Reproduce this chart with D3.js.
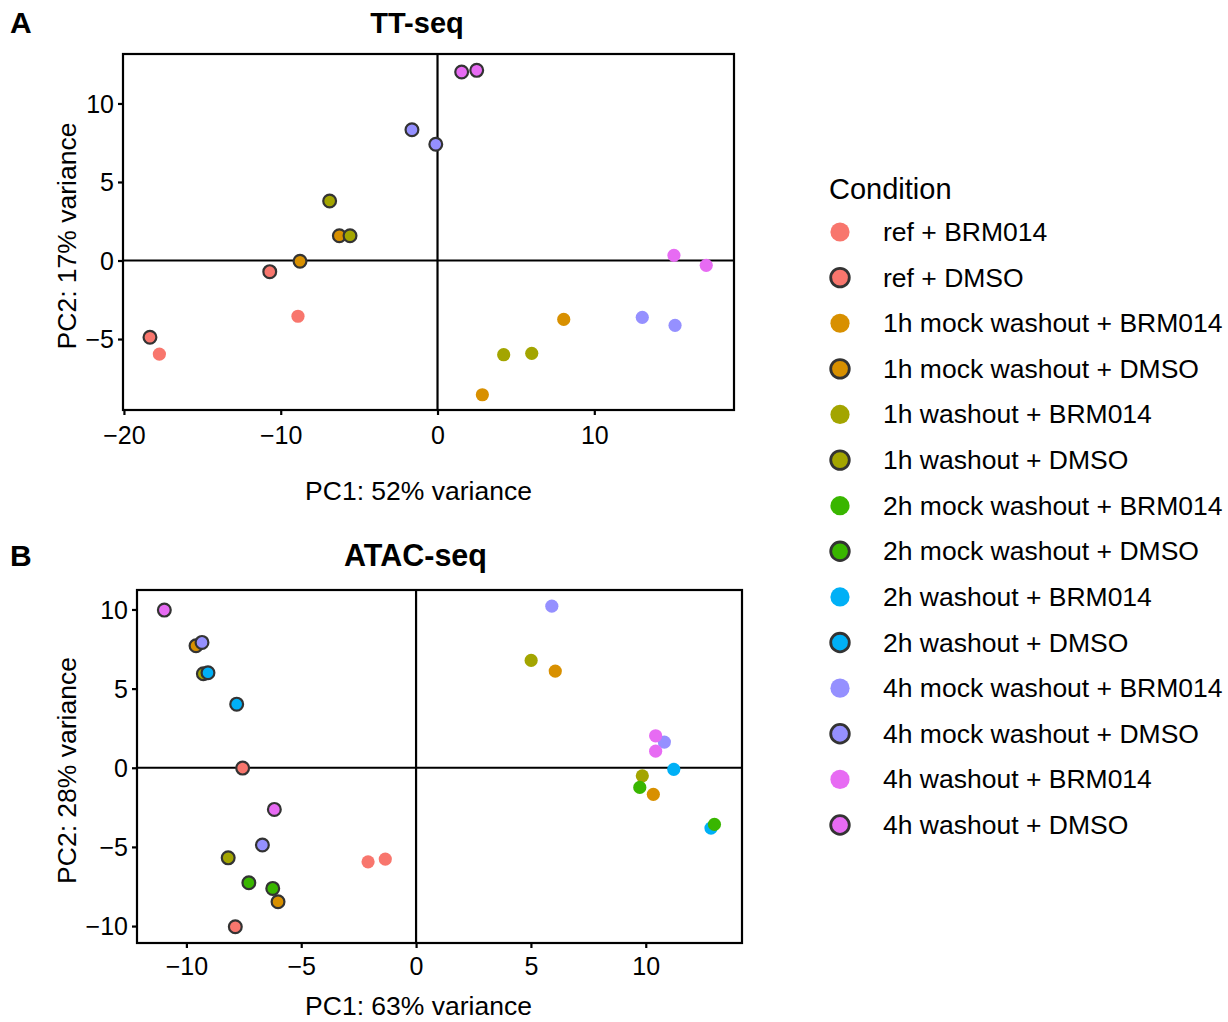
<!DOCTYPE html>
<html>
<head>
<meta charset="utf-8">
<script src="https://cdn.jsdelivr.net/npm/d3@7/dist/d3.min.js"></script>
<style>
  body { margin: 0; background: #fff; }
  svg { display: block; font-family: "Liberation Sans", Arial, Helvetica, sans-serif; }
</style>
</head>
<body>
<svg id="chart" width="1228" height="1022"></svg>
<script>
// ---- Data ----
const conditions = [
  "ref + BRM014", "ref + DMSO",
  "1h mock washout + BRM014", "1h mock washout + DMSO",
  "1h washout + BRM014", "1h washout + DMSO",
  "2h mock washout + BRM014", "2h mock washout + DMSO",
  "2h washout + BRM014", "2h washout + DMSO",
  "4h mock washout + BRM014", "4h mock washout + DMSO",
  "4h washout + BRM014", "4h washout + DMSO"
];
const conditionColors = [
  "#F8766D", "#F8766D", "#D89000", "#D89000", "#A3A500", "#A3A500",
  "#39B600", "#39B600", "#00B0F6", "#00B0F6", "#9590FF", "#9590FF",
  "#E76BF3", "#E76BF3"
];
const conditionOutlined = [false, true, false, true, false, true, false, true, false, true, false, true, false, true];

// TT-seq PCA (panel A)
const ttCond = [0, 0, 1, 1, 2, 2, 3, 3, 4, 4, 5, 5, 10, 10, 11, 11, 12, 12, 13, 13];
const ttPC1  = [-17.74, -8.90, -18.34, -10.70, 8.05, 2.86, -8.77, -6.26, 4.22, 6.01, -6.88, -5.58, 13.06, 15.15, -1.63, -0.11, 15.08, 17.14, 1.54, 2.50];
const ttPC2  = [-5.96, -3.55, -4.89, -0.71, -3.75, -8.55, -0.05, 1.58, -6.00, -5.91, 3.79, 1.58, -3.62, -4.13, 8.33, 7.40, 0.33, -0.31, 12.00, 12.11];

// ATAC-seq PCA (panel B)
const atacCond = [0, 0, 1, 1, 2, 2, 3, 3, 4, 4, 5, 5, 8, 8, 6, 6, 7, 7, 9, 9, 10, 10, 11, 11, 12, 12, 13, 13];
const atacPC1  = [-2.09, -1.34, -7.55, -7.87, 6.06, 10.33, -9.58, -6.01, 5.01, 9.85, -9.26, -8.18, 11.22, 12.84, 9.74, 12.99, -7.28, -6.24, -9.06, -7.81, 5.91, 10.81, -9.32, -6.69, 10.43, 10.43, -10.96, -6.17];
const atacPC2  = [-5.94, -5.77, -0.02, -10.04, 6.11, -1.68, 7.71, -8.46, 6.78, -0.51, 5.94, -5.69, -0.10, -3.81, -1.24, -3.58, -7.26, -7.62, 6.00, 4.02, 10.21, 1.62, 7.92, -4.88, 2.02, 1.05, 9.96, -2.63];

// Tick values
const ttXTicks = [-20, -10, 0, 10];
const ttYTicks = [-5, 0, 5, 10];
const atacXTicks = [-10, -5, 0, 5, 10];
const atacYTicks = [-10, -5, 0, 5, 10];

// ---- Drawing ----
const svg = d3.select("#chart");
svg.append("rect").attr("width", 1228).attr("height", 1022).attr("fill", "#fff");

function panel(cfg) {
  const x = d3.scaleLinear().domain(cfg.xDomain).range(cfg.xRange);
  const y = d3.scaleLinear().domain(cfg.yDomain).range(cfg.yRange);
  const g = svg.append("g");
  const [x0, x1] = cfg.xRange, [y1, y0] = cfg.yRange;

  // zero lines
  g.append("line").attr("x1", x0).attr("x2", x1).attr("y1", y(0)).attr("y2", y(0))
    .attr("stroke", "#000").attr("stroke-width", 2.2);
  g.append("line").attr("x1", x(0)).attr("x2", x(0)).attr("y1", y0).attr("y2", y1)
    .attr("stroke", "#000").attr("stroke-width", 2.2);

  // axes
  const xAxis = d3.axisBottom(x).tickValues(cfg.xTicks).tickSize(5).tickPadding(6)
    .tickFormat(d => d < 0 ? "\u2212" + Math.abs(d) : d);
  const yAxis = d3.axisLeft(y).tickValues(cfg.yTicks).tickSize(5).tickPadding(4)
    .tickFormat(d => d < 0 ? "\u2212" + Math.abs(d) : d);
  const gx = g.append("g").attr("transform", `translate(0,${y1})`).call(xAxis);
  const gy = g.append("g").attr("transform", `translate(${x0},0)`).call(yAxis);
  [gx, gy].forEach(a => {
    a.select(".domain").remove();
    a.selectAll(".tick line").attr("stroke", "#000").attr("stroke-width", 2.2);
    a.selectAll(".tick text").attr("fill", "#000").attr("font-size", 25)
      .attr("font-family", '"Liberation Sans", Arial, sans-serif');
  });
  gx.selectAll(".tick text").attr("dy", null).attr("y", cfg.xTickBaseline - y1);
  gy.selectAll(".tick text").attr("dy", "0.35em");

  // points
  const idx = d3.range(cfg.pc1.length);
  g.append("g").selectAll("circle").data(idx).join("circle")
    .attr("cx", i => x(cfg.pc1[i]))
    .attr("cy", i => y(cfg.pc2[i]))
    .attr("r", i => conditionOutlined[cfg.cond[i]] ? 6.4 : 6.6)
    .attr("fill", i => conditionColors[cfg.cond[i]])
    .attr("stroke", i => conditionOutlined[cfg.cond[i]] ? "#333333" : "none")
    .attr("stroke-width", 2.2);

  // border
  g.append("rect").attr("x", x0).attr("y", y0).attr("width", x1 - x0).attr("height", y1 - y0)
    .attr("fill", "none").attr("stroke", "#000").attr("stroke-width", 2.2);

  // titles
  g.append("text").attr("x", cfg.titleX).attr("y", cfg.titleY).attr("text-anchor", "middle")
    .attr("font-size", cfg.titleSize).attr("font-weight", "bold").text(cfg.title);
  g.append("text").attr("x", 10).attr("y", cfg.titleY).attr("font-size", 30)
    .attr("font-weight", "bold").text(cfg.letter);
  g.append("text").attr("x", 418.5).attr("y", cfg.xTitleY).attr("text-anchor", "middle")
    .attr("font-size", 26.5).text(cfg.xLabel);
  g.append("text").attr("transform", `translate(76,${(y0 + y1) / 2 + 4}) rotate(-90)`)
    .attr("text-anchor", "middle").attr("font-size", 26.5).text(cfg.yLabel);
}

panel({
  letter: "A", title: "TT-seq", titleX: 417, titleY: 33, titleSize: 29,
  xDomain: [-20.06, 18.91], xRange: [123, 734],
  yDomain: [-9.52, 13.15], yRange: [410, 54],
  xTicks: ttXTicks, yTicks: ttYTicks, xTickBaseline: 444, xTitleY: 500,
  xLabel: "PC1: 52% variance", yLabel: "PC2: 17% variance",
  pc1: ttPC1, pc2: ttPC2, cond: ttCond
});

panel({
  letter: "B", title: "ATAC-seq", titleX: 415.5, titleY: 566, titleSize: 30.5,
  xDomain: [-12.15, 14.19], xRange: [137, 742],
  yDomain: [-11.07, 11.23], yRange: [943, 590],
  xTicks: atacXTicks, yTicks: atacYTicks, xTickBaseline: 975, xTitleY: 1015,
  xLabel: "PC1: 63% variance", yLabel: "PC2: 28% variance",
  pc1: atacPC1, pc2: atacPC2, cond: atacCond
});

// ---- Legend ----
const lg = svg.append("g");
lg.append("text").attr("x", 829).attr("y", 199).attr("font-size", 29).text("Condition");
const rowY = d3.scaleLinear().domain([0, conditions.length - 1]).range([232, 825]);
const rows = lg.selectAll("g.row").data(conditions).join("g").attr("class", "row")
  .attr("transform", (d, i) => `translate(0,${rowY(i)})`);
rows.append("circle").attr("cx", 840).attr("cy", 0)
  .attr("r", (d, i) => conditionOutlined[i] ? 9.3 : 9.6)
  .attr("fill", (d, i) => conditionColors[i])
  .attr("stroke", (d, i) => conditionOutlined[i] ? "#333333" : "none")
  .attr("stroke-width", 2.8);
rows.append("text").attr("x", 883).attr("y", 9).attr("font-size", 26.5).text(d => d);
</script>
</body>
</html>
